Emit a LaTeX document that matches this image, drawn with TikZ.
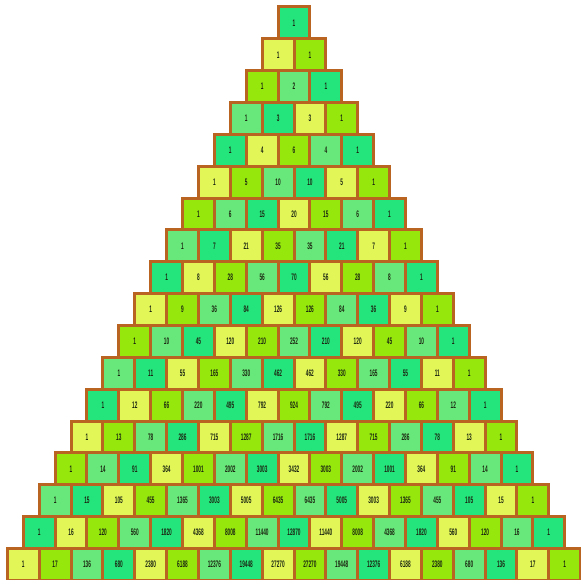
\documentclass[tikz,border=0pt]{standalone}
\usepackage{fontspec}
\setmainfont{Liberation Sans}
\definecolor{cY}{RGB}{226,246,88}
\definecolor{cL}{RGB}{150,232,12}
\definecolor{cM}{RGB}{104,232,122}
\definecolor{cE}{RGB}{36,228,124}
\definecolor{brd}{RGB}{186,100,34}
\definecolor{txt}{RGB}{28,38,18}
\colorlet{c0}{cY}
\colorlet{c1}{cL}
\colorlet{c2}{cM}
\colorlet{c3}{cE}
\tikzset{
  cellbox/.style={draw=brd, line width=3pt, minimum width=31.85pt, minimum height=31.85pt,
    inner sep=0pt, outer sep=0pt, text=txt,
    font=\fontsize{9.5}{10}\selectfont\bfseries},
}
\newcommand{\narrownum}[1]{\scalebox{0.5}[1]{#1}}
\begin{document}
\begin{tikzpicture}[x=1pt,y=1pt]
\useasboundingbox (0,0) rectangle (580,580);
\fill[white] (0,0) rectangle (580,580);
\foreach \r/\vals in {
 0/{1},
 1/{1,1},
 2/{1,2,1},
 3/{1,3,3,1},
 4/{1,4,6,4,1},
 5/{1,5,10,10,5,1},
 6/{1,6,15,20,15,6,1},
 7/{1,7,21,35,35,21,7,1},
 8/{1,8,28,56,70,56,28,8,1},
 9/{1,9,36,84,126,126,84,36,9,1},
 10/{1,10,45,120,210,252,210,120,45,10,1},
 11/{1,11,55,165,330,462,462,330,165,55,11,1},
 12/{1,12,66,220,495,792,924,792,495,220,66,12,1},
 13/{1,13,78,286,715,1287,1716,1716,1287,715,286,78,13,1},
 14/{1,14,91,364,1001,2002,3003,3432,3003,2002,1001,364,91,14,1},
 15/{1,15,105,455,1365,3003,5005,6435,6435,5005,3003,1365,455,105,15,1},
 16/{1,16,120,560,1820,4368,8008,11440,12870,11440,8008,4368,1820,560,120,16,1},
 17/{1,17,136,680,2380,6188,12376,19448,27270,27270,19448,12376,6188,2380,680,136,17,1}}{
  \foreach \v [count=\k from 0] in \vals {
    \pgfmathtruncatemacro\ci{mod(\r+3+\k,4)}
    \pgfmathsetmacro\cx{294+(\k-\r/2)*31.85}
    \pgfmathsetmacro\cy{580-(7+(\r+0.5)*31.85)}
    \node[cellbox, fill=c\ci] (cell-\r-\k) at (\cx,\cy) {\narrownum{\v}};
  }
}
\end{tikzpicture}
\end{document}
